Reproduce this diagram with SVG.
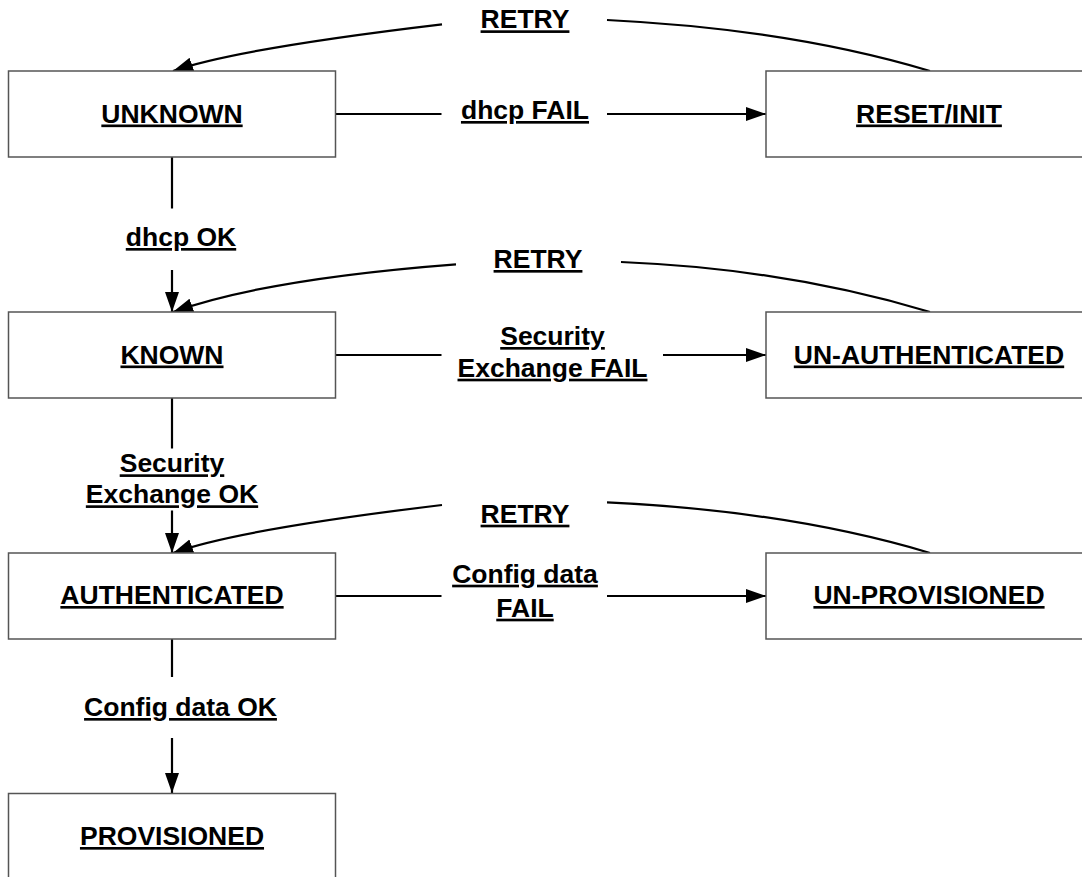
<svg xmlns="http://www.w3.org/2000/svg" width="1082" height="877" viewBox="0 0 1082 877">
  <style>
    .box { fill: #ffffff; stroke: #555555; stroke-width: 1.5; }
    .lbl { font-family: "Liberation Sans", Arial, sans-serif; font-weight: bold; font-size: 26.5px; text-anchor: middle; text-decoration: underline; fill: #000000; }
    .edge { fill: none; stroke: #000000; stroke-width: 2.2; }
  </style>
  <defs>
    <marker id="arrow" markerUnits="userSpaceOnUse" markerWidth="22" markerHeight="16" refX="20" refY="7" orient="auto">
      <path d="M0,0 L20,7 L0,14 z" fill="#000000"/>
    </marker>
  </defs>
  <rect width="1082" height="877" fill="#ffffff"/>

  <g id="connectors">
    <!-- horizontal FAIL transitions -->
    <line class="edge" x1="335" y1="114" x2="441.5" y2="114"/>
    <line class="edge" x1="607" y1="114" x2="766" y2="114" marker-end="url(#arrow)"/>
    <line class="edge" x1="335" y1="355" x2="441.5" y2="355"/>
    <line class="edge" x1="663" y1="355" x2="766" y2="355" marker-end="url(#arrow)"/>
    <line class="edge" x1="335" y1="596" x2="441.5" y2="596"/>
    <line class="edge" x1="607" y1="596" x2="766" y2="596" marker-end="url(#arrow)"/>
    <!-- vertical OK transitions -->
    <line class="edge" x1="172" y1="157" x2="172" y2="208.5"/>
    <line class="edge" x1="172" y1="270" x2="172" y2="312" marker-end="url(#arrow)"/>
    <line class="edge" x1="172" y1="398" x2="172" y2="448.5"/>
    <line class="edge" x1="172" y1="510.5" x2="172" y2="553" marker-end="url(#arrow)"/>
    <line class="edge" x1="172" y1="639" x2="172" y2="677"/>
    <line class="edge" x1="172" y1="738" x2="172" y2="793" marker-end="url(#arrow)"/>
    <!-- RETRY curves -->
    <path class="edge" d="M930,71 Q790,29 607,20"/>
    <path class="edge" d="M442,24.3 Q237,48.6 173,71" marker-end="url(#arrow)"/>
    <path class="edge" d="M930,312 Q785,268.6 621,262"/>
    <path class="edge" d="M456,264.3 Q265,279 173,312" marker-end="url(#arrow)"/>
    <path class="edge" d="M930,553 Q790,511 607,502.3"/>
    <path class="edge" d="M442,505 Q237,529.6 173,553" marker-end="url(#arrow)"/>
  </g>

  <g id="edge-labels">
    <text class="lbl" x="525" y="28.3">RETRY</text>
    <text class="lbl" x="525" y="119">dhcp FAIL</text>
    <text class="lbl" x="181" y="246">dhcp OK</text>
    <text class="lbl" x="538" y="268">RETRY</text>
    <text class="lbl" x="552.5" y="345">Security</text>
    <text class="lbl" x="552.5" y="376.7">Exchange FAIL</text>
    <text class="lbl" x="172" y="472.3">Security</text>
    <text class="lbl" x="172" y="503.3">Exchange OK</text>
    <text class="lbl" x="525" y="522.7">RETRY</text>
    <text class="lbl" x="525" y="582.7">Config data</text>
    <text class="lbl" x="525" y="616.7">FAIL</text>
    <text class="lbl" x="180.5" y="716">Config data OK</text>
  </g>

  <g id="node-unknown">
    <rect class="box" x="8.5" y="71" width="327" height="86"/>
    <text class="lbl" x="172" y="122.5">UNKNOWN</text>
  </g>
  <g id="node-reset-init">
    <rect class="box" x="766" y="71" width="327" height="86"/>
    <text class="lbl" x="929" y="122.5">RESET/INIT</text>
  </g>
  <g id="node-known">
    <rect class="box" x="8.5" y="312" width="327" height="86"/>
    <text class="lbl" x="172" y="363.5">KNOWN</text>
  </g>
  <g id="node-un-authenticated">
    <rect class="box" x="766" y="312" width="327" height="86"/>
    <text class="lbl" x="929" y="363.5">UN-AUTHENTICATED</text>
  </g>
  <g id="node-authenticated">
    <rect class="box" x="8.5" y="553" width="327" height="86"/>
    <text class="lbl" x="172" y="604">AUTHENTICATED</text>
  </g>
  <g id="node-un-provisioned">
    <rect class="box" x="766" y="553" width="327" height="86"/>
    <text class="lbl" x="929" y="604">UN-PROVISIONED</text>
  </g>
  <g id="node-provisioned">
    <rect class="box" x="8.5" y="793.5" width="327" height="86"/>
    <text class="lbl" x="172" y="845">PROVISIONED</text>
  </g>
</svg>
